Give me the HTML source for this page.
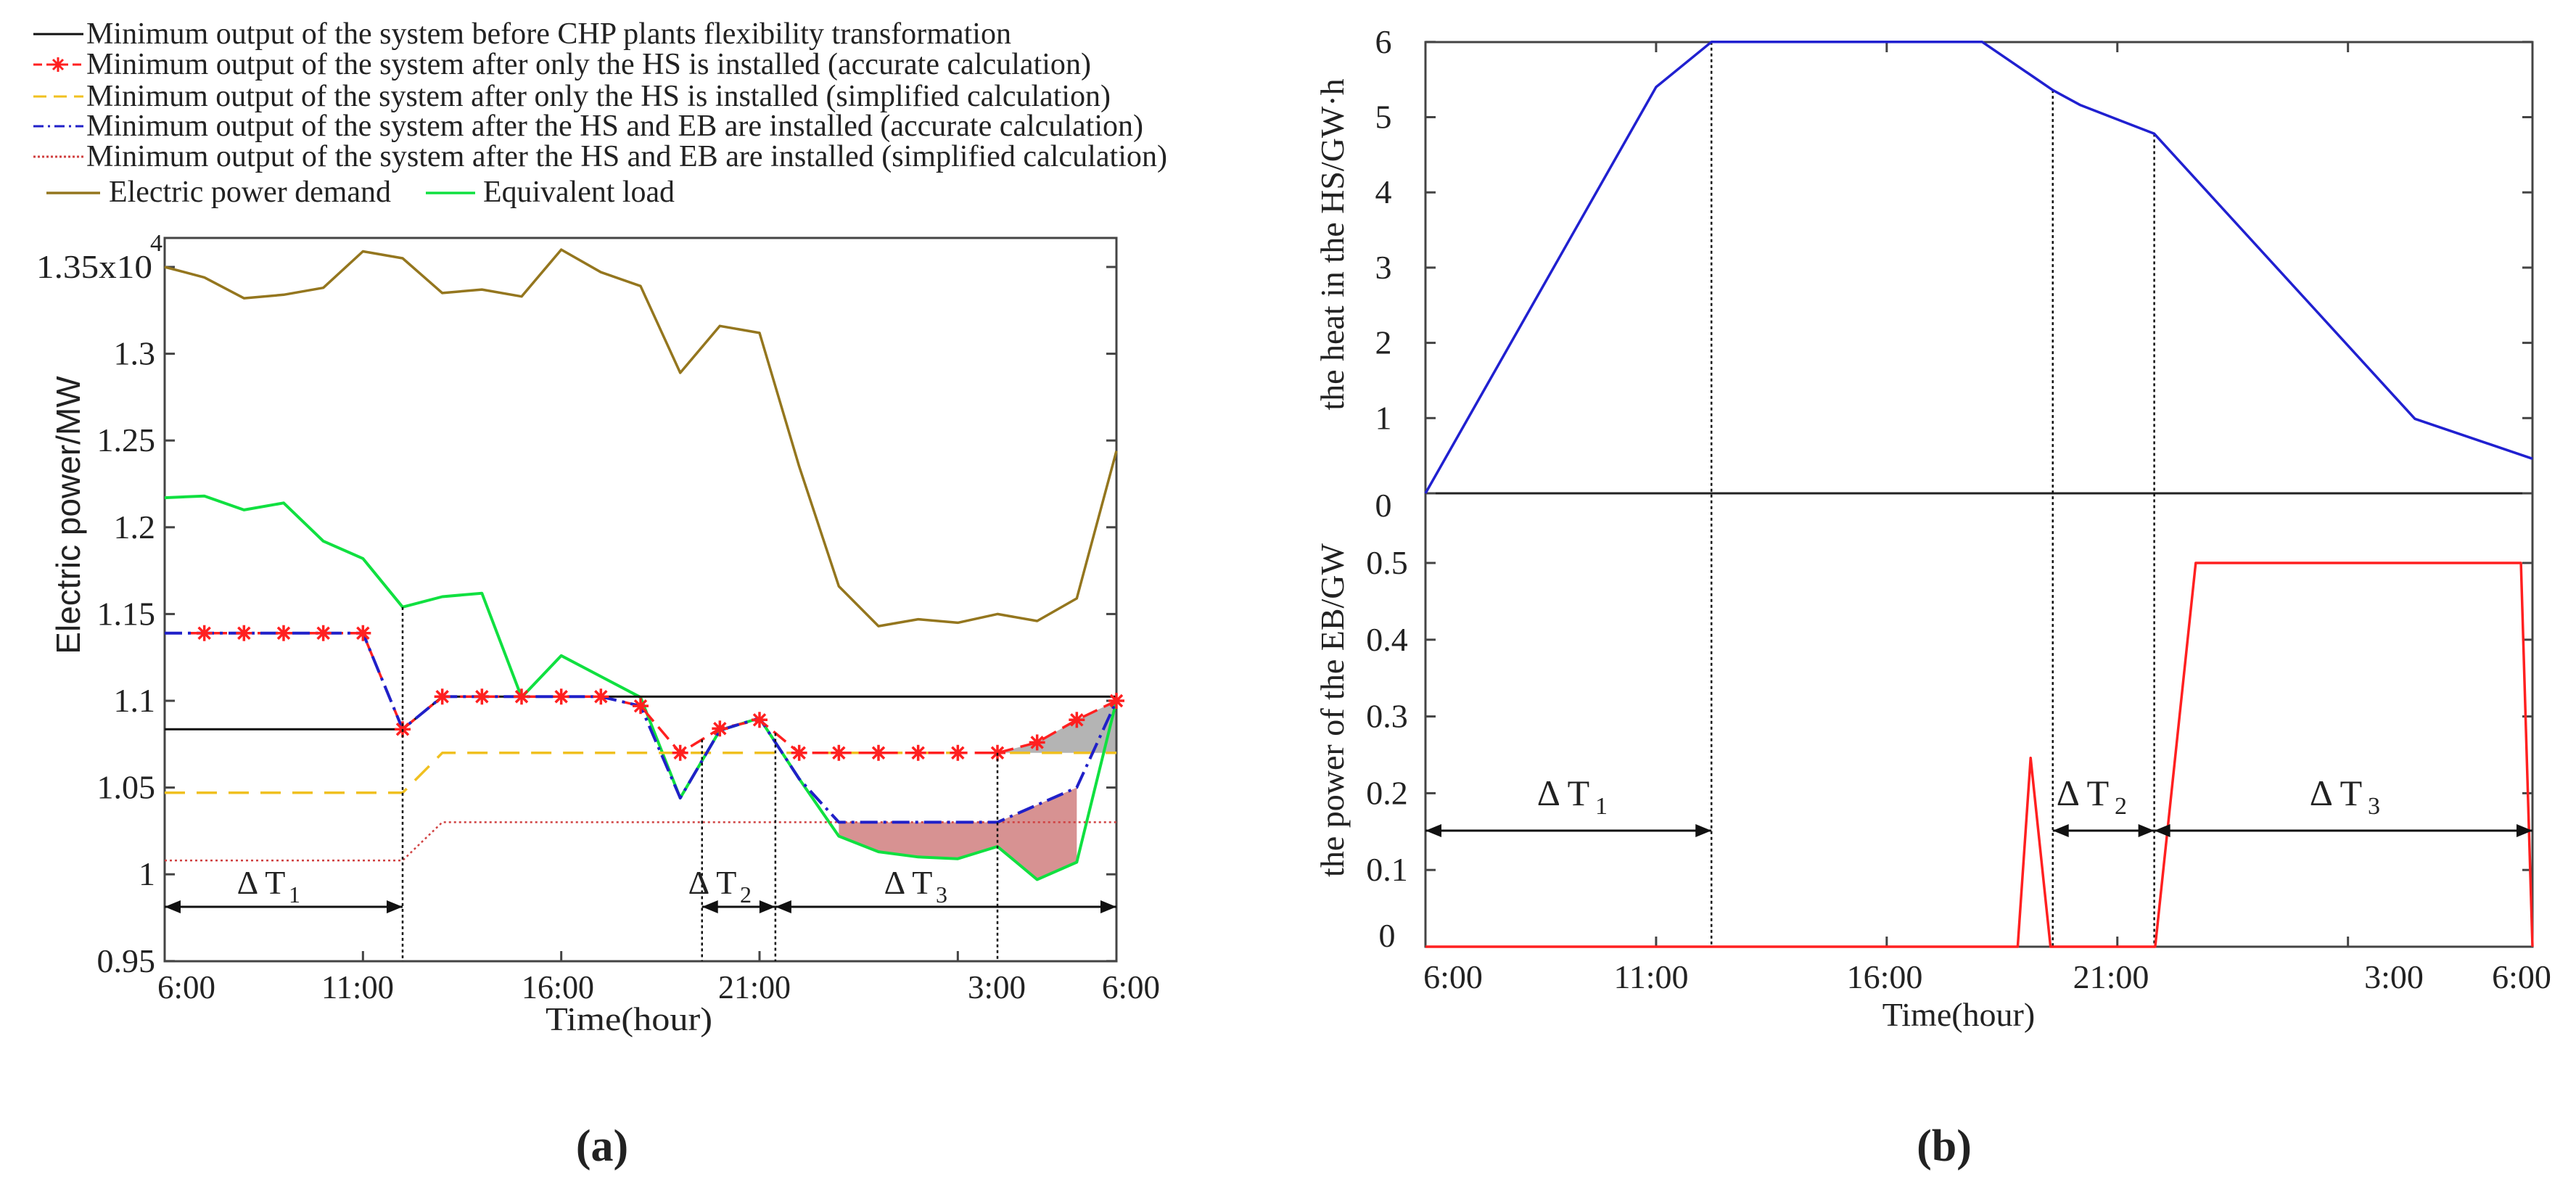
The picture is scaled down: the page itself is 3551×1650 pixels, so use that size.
<!DOCTYPE html>
<html><head><meta charset="utf-8"><style>
html,body{margin:0;padding:0;background:#fff;}
svg{display:block;}
text{font-family:"Liberation Serif",serif;fill:#222;}
</style></head><body>
<svg id="c" width="3551" height="1650" viewBox="0 0 3551 1650" xmlns="http://www.w3.org/2000/svg"></svg>
<script>
// ---------- data (chart a) ----------
const hoursA = [0,1,2,3,4,5,6,7,8,9,10,11,12,13,14,15,16,17,18,19,20,21,22,23,24];
const demand = [1.350,1.344,1.332,1.334,1.338,1.359,1.355,1.335,1.337,1.333,1.360,1.347,1.339,1.289,1.316,1.312,1.235,1.166,1.143,1.147,1.145,1.150,1.146,1.159,1.244];
const equivLoad = [1.217,1.218,1.210,1.214,1.192,1.182,1.154,1.160,1.162,1.102,1.126,1.114,1.102,1.044,1.083,1.090,1.055,1.022,1.013,1.010,1.009,1.016,0.997,1.007,1.100];
const minBefore = [1.0836,1.0836,1.0836,1.0836,1.0836,1.0836,1.0836,1.1024,1.1024,1.1024,1.1024,1.1024,1.1024,1.1024,1.1024,1.1024,1.1024,1.1024,1.1024,1.1024,1.1024,1.1024,1.1024,1.1024,1.1024];
const hsAccurate = [1.139,1.139,1.139,1.139,1.139,1.139,1.0836,1.1024,1.1024,1.1024,1.1024,1.1024,1.097,1.070,1.084,1.089,1.070,1.070,1.070,1.070,1.070,1.070,1.076,1.089,1.100];
const hsSimplified = [1.047,1.047,1.047,1.047,1.047,1.047,1.047,1.070,1.070,1.070,1.070,1.070,1.070,1.070,1.070,1.070,1.070,1.070,1.070,1.070,1.070,1.070,1.070,1.070,1.070];
const hsebAccurate = [1.139,1.139,1.139,1.139,1.139,1.139,1.0836,1.1024,1.1024,1.1024,1.1024,1.1024,1.097,1.044,1.083,1.090,1.055,1.030,1.030,1.030,1.030,1.030,1.040,1.050,1.100];
const hsebSimplified = [1.008,1.008,1.008,1.008,1.008,1.008,1.008,1.030,1.030,1.030,1.030,1.030,1.030,1.030,1.030,1.030,1.030,1.030,1.030,1.030,1.030,1.030,1.030,1.030,1.030];
const yTicksA = [0.95,1,1.05,1.1,1.15,1.2,1.25,1.3];
const yTickLabelsA = ["0.95","1","1.05","1.1","1.15","1.2","1.25","1.3"];
const xTickPosA = [5,10,15,20];
const xLabelsA = ["6:00","11:00","16:00","21:00","3:00","6:00"];
const periodsA = [[0,6],[13.55,15.4],[15.4,24]];
const vlinesA = [6,13.55,15.4,21];
// ---------- data (chart b) ----------
const hoursHeat = [0,5,6.2,12.07,13.17,13.6,14.2,15.8,21.45,24];
const heatHS = [0,5.4,6,6,5.54,5.36,5.16,4.78,0.99,0.46];
const hoursEB = [0,12.84,13.12,13.55,15.82,16.7,23.75,24];
const powerEB = [0,0,0.246,0,0,0.5,0.5,0];
const yTicksHeat = [0,1,2,3,4,5,6];
const yTicksEB = [0,0.1,0.2,0.3,0.4,0.5];
const xTickPosB = [5,10,15,20];
const xLabelsB = ["6:00","11:00","16:00","21:00","3:00","6:00"];
const vlinesB = [6.2,13.6,15.8];
const periodsB = [[0,6.2],[13.6,15.8],[15.8,24]];

const svg = document.getElementById('c');
const NS = 'http://www.w3.org/2000/svg';
function mk(tag, attrs, parent){const e=document.createElementNS(NS,tag);for(const k in attrs)e.setAttribute(k,attrs[k]);(parent||svg).appendChild(e);return e;}
function txt(s,attrs,parent){const e=mk('text',attrs,parent);e.textContent=s;return e;}

// ---------- axes A ----------
const AX0=227, AX1=1539, AY0=328, AY1=1325;
const xA = h => AX0 + h*(AX1-AX0)/24;
const yA = v => 368 + (1.35 - v)*2392;
const gA = mk('g',{});



function pathFrom(xs,ys,fx,fy){return xs.map((h,i)=>(i?'L':'M')+fx(h).toFixed(1)+' '+fy(ys[i]).toFixed(1)).join(' ');}

function fillBetween(upper,lower,i0,i1,color,name){
  let d='';
  for(let i=i0;i<=i1;i++) d+=(i===i0?'M':'L')+xA(hoursA[i])+' '+yA(upper[i])+' ';
  for(let i=i1;i>=i0;i--) d+='L'+xA(hoursA[i])+' '+yA(lower[i])+' ';
  const p=mk('path',{d:d+'Z',fill:color,stroke:'none'},gA);
  
  
}
fillBetween(hsebAccurate,equivLoad,17,23,'#d79292','pink-fill-area');
fillBetween(hsAccurate,hsSimplified,21,24,'#b4b4b4','gray-fill-area');

const fa=mk('rect',{x:AX0,y:AY0,width:AX1-AX0,height:AY1-AY0,fill:'none',stroke:'#444','stroke-width':3},gA);



yTicksA.forEach((v,i)=>{
  const y=yA(v);
  mk('line',{x1:AX0,y1:y,x2:AX0+14,y2:y,stroke:'#444','stroke-width':3},gA);
  mk('line',{x1:AX1-14,y1:y,x2:AX1,y2:y,stroke:'#444','stroke-width':3},gA);
  const t=txt(yTickLabelsA[i],{x:214,y:y+15,'font-size':46,'text-anchor':'end'},gA);
  
  
});
mk('line',{x1:AX0,y1:yA(1.35),x2:AX0+14,y2:yA(1.35),stroke:'#444','stroke-width':3},gA);
mk('line',{x1:AX1-14,y1:yA(1.35),x2:AX1,y2:yA(1.35),stroke:'#444','stroke-width':3},gA);
const t135=txt('1.35x10',{x:50,y:yA(1.35)+15,'font-size':46,textLength:160,lengthAdjust:'spacingAndGlyphs'},gA);


txt('4',{x:207,y:yA(1.35)-22,'font-size':34},gA);
xTickPosA.forEach(h=>{
  mk('line',{x1:xA(h),y1:AY1,x2:xA(h),y2:AY1-14,stroke:'#444','stroke-width':3},gA);
});
const xlabAX=[257,493,769,1040,1374,1559];
xLabelsA.forEach((s,i)=>{
  const t=txt(s,{x:xlabAX[i],y:1376,'font-size':46,'text-anchor':'middle',textLength:s.length*20,lengthAdjust:'spacingAndGlyphs'},gA);
  
  
});
const xt=txt('Time(hour)',{x:867,y:1420,'font-size':46,'text-anchor':'middle',textLength:230,lengthAdjust:'spacingAndGlyphs'},gA);


const yt=txt('Electric power/MW',{x:0,y:0,'font-size':46,'text-anchor':'middle',transform:'translate(110,710) rotate(-90)',style:'font-family:"Liberation Sans",sans-serif'},gA);



function series(xs,ys,fx,fy,color,w,dash,name,parent){
  const p=mk('path',{d:pathFrom(xs,ys,fx,fy),fill:'none',stroke:color,'stroke-width':w,'stroke-linejoin':'round'},parent);
  if(dash)p.setAttribute('stroke-dasharray',dash);
  
  
  return p;
}
series(hoursA,demand,xA,yA,'#94761e',3.5,null,'electric-power-demand-line',gA);
series(hoursA,equivLoad,xA,yA,'#10e040',4,null,'equivalent-load-line',gA);
series(hoursA,minBefore,xA,yA,'#111',3,null,'min-output-before-line',gA);
series(hoursA,hsSimplified,xA,yA,'#f0c020',3.5,'28,16','hs-simplified-line',gA);
series(hoursA,hsebSimplified,xA,yA,'#d04040',2.5,'3,4','hseb-simplified-line',gA);
series(hoursA,hsAccurate,xA,yA,'#ff2020',3.5,'22,10','hs-accurate-line',gA);
series(hoursA,hsebAccurate,xA,yA,'#2020c8',4,'24,8,4,8','hseb-accurate-line',gA);
hoursA.forEach((h,i)=>{
  if(i===0)return;
  const cx=xA(h), cy=yA(hsAccurate[i]);
  const g=mk('g',{stroke:'#ff2020','stroke-width':3.5},gA);
  
  
  mk('line',{x1:cx-11,y1:cy,x2:cx+11,y2:cy},g);
  mk('line',{x1:cx,y1:cy-11,x2:cx,y2:cy+11},g);
  mk('line',{x1:cx-8,y1:cy-8,x2:cx+8,y2:cy+8},g);
  mk('line',{x1:cx-8,y1:cy+8,x2:cx+8,y2:cy-8},g);
});
function interp(xs,ys,h){for(let i=1;i<xs.length;i++){if(h<=xs[i]){const t=(h-xs[i-1])/(xs[i]-xs[i-1]);return ys[i-1]+t*(ys[i]-ys[i-1]);}}return ys[ys.length-1];}
vlinesA.forEach(h=>{
  const top=yA(Math.max(interp(hoursA,hsAccurate,h),interp(hoursA,equivLoad,h)));
  const l=mk('line',{x1:xA(h),y1:top,x2:xA(h),y2:AY1,stroke:'#111','stroke-width':2.5,'stroke-dasharray':'4,4'},gA);
  
  
});
function arrow(x1,x2,y,parent,name){
  const g=mk('g',{},parent);
  
  
  mk('line',{x1:x1,y1:y,x2:x2,y2:y,stroke:'#111','stroke-width':3},g);
  mk('path',{d:`M${x1} ${y} l22 -9 l0 18 Z`,fill:'#111'},g);
  mk('path',{d:`M${x2} ${y} l-22 -9 l0 18 Z`,fill:'#111'},g);
}
const labA=[[390,'1'],[1012,'2'],[1282,'3']];
periodsA.forEach((p,i)=>{
  arrow(xA(p[0]),xA(p[1]),1250,gA,'period-arrow-'+(i+1));
  const t=txt('Δ T',{x:labA[i][0]-30,y:1232,'font-size':46,'text-anchor':'middle'},gA);
  
  
  txt(labA[i][1],{x:labA[i][0]+8,y:1244,'font-size':32},gA);
});

const legRows=[
 {y:47,text:'Minimum output of the system before CHP plants flexibility transformation',w:1275,color:'#111',dash:null},
 {y:89,text:'Minimum output of the system after only the HS is installed (accurate calculation)',w:1385,color:'#ff2020',dash:'12,6',star:true},
 {y:133,text:'Minimum output of the system after only the HS is installed (simplified calculation)',w:1412,color:'#f0c020',dash:'18,10'},
 {y:174,text:'Minimum output of the system after the HS and EB are installed (accurate calculation)',w:1457,color:'#2020c8',dash:'14,6,3,6'},
 {y:216,text:'Minimum output of the system after the HS and EB are installed (simplified calculation)',w:1490,color:'#d04040',dash:'3,3'}
];
const gL=mk('g',{});


legRows.forEach(r=>{
  const g=mk('g',{},gL);
  
  
  const l=mk('line',{x1:46,y1:r.y,x2:115,y2:r.y,stroke:r.color,'stroke-width':3},g);
  if(r.dash)l.setAttribute('stroke-dasharray',r.dash);
  if(r.star){const cx=80,cy=r.y;[[cx-10,cy,cx+10,cy],[cx,cy-10,cx,cy+10],[cx-7,cy-7,cx+7,cy+7],[cx-7,cy+7,cx+7,cy-7]].forEach(a=>mk('line',{x1:a[0],y1:a[1],x2:a[2],y2:a[3],stroke:'#ff2020','stroke-width':3},g));}
  txt(r.text,{x:119,y:r.y+13,'font-size':42,textLength:r.w,lengthAdjust:'spacingAndGlyphs'},g);
});
[[64,138,150,'Electric power demand',389,'#94761e'],[587,655,666,'Equivalent load',264,'#10e040']].forEach(a=>{
  const g=mk('g',{},gL);
  
  
  mk('line',{x1:a[0],y1:266,x2:a[1],y2:266,stroke:a[5],'stroke-width':3.5},g);
  txt(a[3],{x:a[2],y:278,'font-size':42,textLength:a[4],lengthAdjust:'spacingAndGlyphs'},g);
});
const capA=txt('(a)',{x:830,y:1600,'font-size':62,'font-weight':'bold','text-anchor':'middle'});



// ---------- chart B ----------
const BX0=1965, BX1=3491, BYT=58, BYM=680, BYB=1305;
const xB = h => BX0 + h*(BX1-BX0)/24;
const yH = v => BYM - v*103.7;
const yE = v => BYB - v*1058;
const gB=mk('g',{});


const fb=mk('rect',{x:BX0,y:BYT,width:BX1-BX0,height:BYB-BYT,fill:'none',stroke:'#444','stroke-width':3},gB);


mk('line',{x1:BX0,y1:BYM,x2:BX1,y2:BYM,stroke:'#222','stroke-width':3},gB);
yTicksHeat.forEach(v=>{
  const y=yH(v);
  mk('line',{x1:BX0,y1:y,x2:BX0+14,y2:y,stroke:'#444','stroke-width':3},gB);
  mk('line',{x1:BX1-14,y1:y,x2:BX1,y2:y,stroke:'#444','stroke-width':3},gB);
  const t=txt(String(v),{x:1907,y:y+(v===0?32:15),'font-size':46,'text-anchor':'middle'},gB);
  
  
});
yTicksEB.forEach(v=>{
  const y=yE(v);
  mk('line',{x1:BX0,y1:y,x2:BX0+14,y2:y,stroke:'#444','stroke-width':3},gB);
  mk('line',{x1:BX1-14,y1:y,x2:BX1,y2:y,stroke:'#444','stroke-width':3},gB);
  const t=txt(String(v),{x:1912,y:y+(v===0?0:15),'font-size':46,'text-anchor':'middle'},gB);
  
  
});
xTickPosB.forEach(h=>{
  mk('line',{x1:xB(h),y1:BYB,x2:xB(h),y2:BYB-14,stroke:'#444','stroke-width':3},gB);
  mk('line',{x1:xB(h),y1:BYT,x2:xB(h),y2:BYT+14,stroke:'#444','stroke-width':3},gB);
});
const xlabBX=[2003,2276,2598,2910,3300,3476];
xLabelsB.forEach((s,i)=>{
  const t=txt(s,{x:xlabBX[i],y:1362,'font-size':46,'text-anchor':'middle'},gB);
  
  
});
const xtb=txt('Time(hour)',{x:2700,y:1414,'font-size':46,'text-anchor':'middle'},gB);


const yt1=txt('the heat in the HS/GW·h',{x:0,y:0,'font-size':46,'text-anchor':'middle',transform:'translate(1852,337) rotate(-90)'},gB);


const yt2=txt('the power of the EB/GW',{x:0,y:0,'font-size':46,'text-anchor':'middle',transform:'translate(1852,979) rotate(-90)'},gB);


vlinesB.forEach(h=>{
  const l=mk('line',{x1:xB(h),y1:yH(interp(hoursHeat,heatHS,h)),x2:xB(h),y2:BYB,stroke:'#111','stroke-width':2.5,'stroke-dasharray':'4,4'},gB);
  
  
});
series(hoursHeat,heatHS,xB,yH,'#2020d0',3.5,null,'heat-in-hs-line',gB);
series(hoursEB,powerEB,xB,yE,'#ff2020',3.5,null,'eb-power-line',gB);
const labB=[[2175,'1'],[2891,'2'],[3240,'3']];
periodsB.forEach((p,i)=>{
  arrow(xB(p[0]),xB(p[1]),1145,gB,'period-arrow-b-'+(i+1));
  const t=txt('Δ T',{x:labB[i][0]-20,y:1110,'font-size':50,'text-anchor':'middle'},gB);
  
  
  txt(labB[i][1],{x:labB[i][0]+24,y:1122,'font-size':34},gB);
});
const capB=txt('(b)',{x:2680,y:1600,'font-size':62,'font-weight':'bold','text-anchor':'middle'});


</script>
</body></html>
